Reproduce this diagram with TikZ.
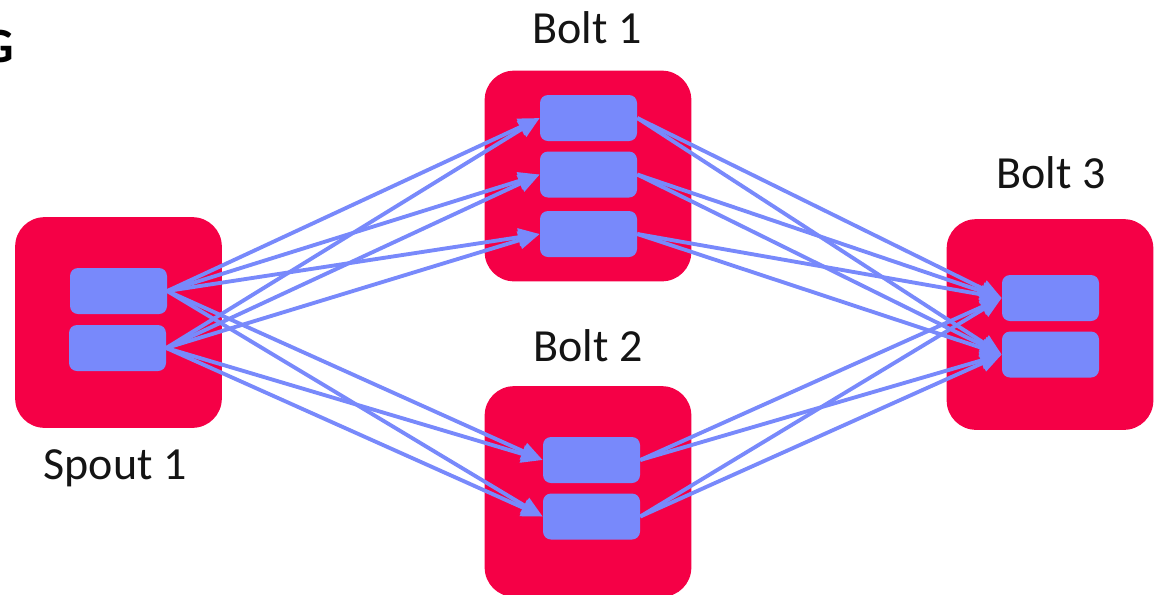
\documentclass[tikz,border=0pt]{standalone}
\usepackage{fontspec}
\setmainfont{Carlito}
\usetikzlibrary{arrows.meta}
\definecolor{workerred}{RGB}{245,0,70}
\definecolor{taskblue}{RGB}{120,137,251}
\definecolor{labelgray}{RGB}{20,20,20}

\begin{document}
\begin{tikzpicture}[x=0.75pt,y=0.75pt,yscale=-1,xscale=1,
    worker/.style={fill=workerred, rounded corners=22pt, minimum width=155pt, minimum height=158pt, inner sep=0pt},
    task/.style={fill=taskblue, rounded corners=6pt, minimum width=72.75pt, minimum height=34.5pt, inner sep=0pt},
    flow/.style={draw=taskblue, line width=2.9pt, -{Triangle[length=16pt,width=13pt]}},
    lbl/.style={font=\fontsize{34.5}{40}\selectfont, text=labelgray, inner sep=0pt, anchor=base}]
        \useasboundingbox (0,0) rectangle (1154,594);

        % workers
        \node [worker] (spout) at (118.5,322.5) {};
        \node [worker] (bolt1) at (588,176) {};
        \node [worker] (bolt2) at (588,491.5) {};
        \node [worker] (bolt3) at (1050,324.5) {};

        % tasks
        \node [task] (s1) at (118.5,291) {};
        \node [task] (s2) at (117.5,348) {};
        \node [task] (b1a) at (588.5,118) {};
        \node [task] (b1b) at (588.5,174.5) {};
        \node [task] (b1c) at (588.5,234) {};
        \node [task] (b2a) at (591.5,460) {};
        \node [task] (b2b) at (591.5,516.5) {};
        \node [task] (b3a) at (1050.5,298) {};
        \node [task] (b3b) at (1050.5,354.5) {};

        % labels
        \node [lbl] (lspout) at (115,479) {Spout 1};
        \node [lbl] (lbolt1) at (587,43) {Bolt 1};
        \node [lbl] (lbolt2) at (588,361) {Bolt 2};
        \node [lbl] (lbolt3) at (1051,188) {Bolt 3};
        \node [font=\fontsize{37}{40}\selectfont\bfseries, inner sep=0pt, anchor=base east] (ltitle) at (14,62) {G};

        % streams
        \foreach \s in {s1,s2}
            \foreach \t in {b1a,b1b,b1c,b2a,b2b}
                \draw [flow] (\s.east) -- (\t.west);
        \foreach \s in {b1a,b1b,b1c,b2a,b2b}
            \foreach \t in {b3a,b3b}
                \draw [flow] (\s.east) -- (\t.west);
\end{tikzpicture}
\end{document}
